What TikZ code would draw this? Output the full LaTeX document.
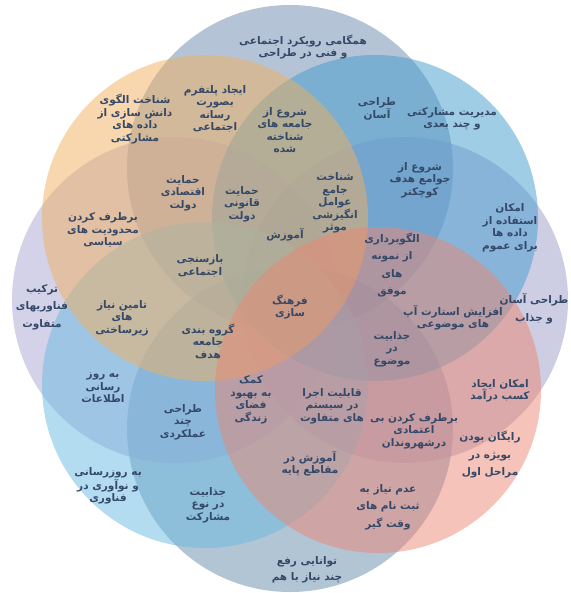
\documentclass[tikz,border=0pt]{standalone}
\usepackage{fontspec}
\newfontfamily\fa[Script=Arabic]{DejaVu Sans}
\TeXXeTstate=1
\newcommand\rtlline[1]{\beginR#1\endR}
\definecolor{cTopGray}{RGB}{105,137,173}
\definecolor{cBotGray}{RGB}{100,140,172}
\definecolor{cOrange}{RGB}{241,175,95}
\definecolor{cURBlue}{RGB}{65,155,205}
\definecolor{cRPurple}{RGB}{155,155,201}
\definecolor{cLPurple}{RGB}{169,165,209}
\definecolor{cPink}{RGB}{235,135,115}
\definecolor{cLLBlue}{RGB}{105,185,225}
\definecolor{txtcol}{RGB}{52,72,104}
\tikzset{
  petal/.style={fill opacity=0.5},
  lbl/.style={font=\fa\bfseries\fontsize{10.5}{12.5}\selectfont, text=txtcol, align=center, inner sep=0pt},
  lblwide/.style={font=\fa\bfseries\fontsize{10.5}{17.5}\selectfont, text=txtcol, align=center, inner sep=0pt}
}
\begin{document}
\begin{tikzpicture}[x=1pt,y=-1pt]
\useasboundingbox (0,0) rectangle (570,593);
% circles
\fill[cTopGray,petal] (290,168) circle[radius=163pt];
\fill[cBotGray,petal] (290,429) circle[radius=163pt];
\fill[cLPurple,petal] (175,300) circle[radius=163pt];
\fill[cRPurple,petal] (405,300) circle[radius=163pt];
\fill[cURBlue,petal] (375,218) circle[radius=163pt];
\fill[cLLBlue,petal] (205,385) circle[radius=163pt];
\fill[cOrange,petal] (205,218) circle[radius=163pt];
\fill[cPink,petal] (378,390) circle[radius=163pt];
% labels
\node[lbl] (t1) at (303,47) {\rtlline{همگامی رویکرد اجتماعی}\\\rtlline{و فنی در طراحی}};
\node[lbl] (t2) at (215,109) {\rtlline{ایجاد پلتفرم}\\\rtlline{بصورت}\\\rtlline{رسانه}\\\rtlline{اجتماعی}};
\node[lbl] (t3) at (135,119) {\rtlline{شناخت الگوی}\\\rtlline{دانش سازی از}\\\rtlline{داده های}\\\rtlline{مشارکتی}};
\node[lbl] (t4) at (285,130) {\rtlline{شروع از}\\\rtlline{جامعه های}\\\rtlline{شناخته}\\\rtlline{شده}};
\node[lbl] (t5) at (377,109) {\rtlline{طراحی}\\\rtlline{آسان}};
\node[lbl] (t6) at (452,119) {\rtlline{مدیریت مشارکتی}\\\rtlline{و چند بعدی}};
\node[lbl] (t7) at (420,180) {\rtlline{شروع از}\\\rtlline{جوامع هدف}\\\rtlline{کوچکتر}};
\node[lbl] (t8) at (335,203) {\rtlline{شناخت}\\\rtlline{جامع}\\\rtlline{عوامل}\\\rtlline{انگیزشی}\\\rtlline{موثر}};
\node[lbl] (t9) at (510,228) {\rtlline{امکان}\\\rtlline{استفاده از}\\\rtlline{داده ها}\\\rtlline{برای عموم}};
\node[lbl] (t10) at (183,193) {\rtlline{حمایت}\\\rtlline{اقتصادی}\\\rtlline{دولت}};
\node[lbl] (t11) at (242,204) {\rtlline{حمایت}\\\rtlline{قانونی}\\\rtlline{دولت}};
\node[lbl] (t12) at (103,230) {\rtlline{برطرف کردن}\\\rtlline{محدودیت های}\\\rtlline{سیاسی}};
\node[lbl] (t13) at (285,235) {\rtlline{آموزش}};
\node[lbl] (t14) at (200,266) {\rtlline{بازسنجی}\\\rtlline{اجتماعی}};
\node[lblwide] (t15) at (392,265) {\rtlline{الگوبرداری}\\\rtlline{از نمونه}\\\rtlline{های}\\\rtlline{موفق}};
\node[lbl] (t16) at (290,307) {\rtlline{فرهنگ}\\\rtlline{سازی}};
\node[lblwide] (t17) at (42,307) {\rtlline{ترکیب}\\\rtlline{فناوریهای}\\\rtlline{متفاوت}};
\node[lbl] (t18) at (122,318) {\rtlline{تامین نیاز}\\\rtlline{های}\\\rtlline{زیرساختی}};
\node[lbl] (t19) at (453,318) {\rtlline{افزایش استارت آپ}\\\rtlline{های موضوعی}};
\node[lblwide] (t20) at (534,309) {\rtlline{طراحی آسان}\\\rtlline{و جذاب}};
\node[lbl] (t21) at (208,341) {\rtlline{گروه بندی}\\\rtlline{جامعه}\\\rtlline{هدف}};
\node[lbl] (t22) at (392,349) {\rtlline{جذابیت}\\\rtlline{در}\\\rtlline{موضوع}};
\node[lbl] (t23) at (500,391) {\rtlline{امکان ایجاد}\\\rtlline{کسب درآمد}};
\node[lbl] (t24) at (103,388) {\rtlline{به روز}\\\rtlline{رسانی}\\\rtlline{اطلاعات}};
\node[lbl] (t25) at (251,400) {\rtlline{کمک}\\\rtlline{به بهبود}\\\rtlline{فضای}\\\rtlline{زندگی}};
\node[lbl] (t26) at (332,406) {\rtlline{قابلیت اجرا}\\\rtlline{در سیستم}\\\rtlline{های متفاوت}};
\node[lbl] (t27) at (414,431) {\rtlline{برطرف کردن بی}\\\rtlline{اعتمادی}\\\rtlline{درشهروندان}};
\node[lbl] (t28) at (183,422) {\rtlline{طراحی}\\\rtlline{چند}\\\rtlline{عملکردی}};
\node[lbl] (t29) at (310,464) {\rtlline{آموزش در}\\\rtlline{مقاطع پایه}};
\node[lblwide] (t30) at (490,455) {\rtlline{رایگان بودن}\\\rtlline{بویژه در}\\\rtlline{مراحل اول}};
\node[lbl] (t31) at (108,486) {\rtlline{به روزرسانی}\\\rtlline{و نوآوری در}\\\rtlline{فناوری}};
\node[lbl] (t32) at (208,505) {\rtlline{جذابیت}\\\rtlline{در نوع}\\\rtlline{مشارکت}};
\node[lblwide] (t33) at (388,507) {\rtlline{عدم نیاز به}\\\rtlline{ثبت نام های}\\\rtlline{وقت گیر}};
\node[lbl,font=\fa\bfseries\fontsize{10.5}{16}\selectfont] (t34) at (307,570) {\rtlline{توانایی رفع}\\\rtlline{چند نیاز با هم}};
\end{tikzpicture}
\end{document}
